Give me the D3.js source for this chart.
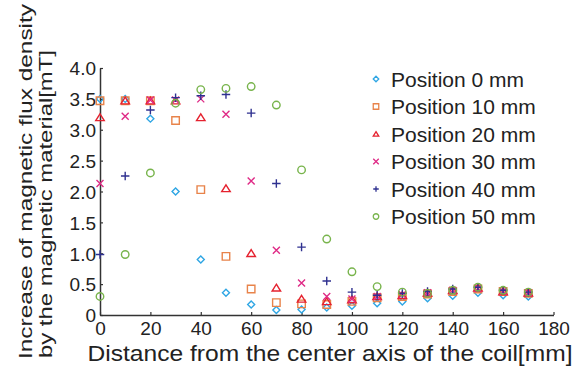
<!DOCTYPE html>
<html>
<head>
<meta charset="utf-8">
<script src="https://cdn.jsdelivr.net/npm/d3@7"></script>
<style>
  body { margin: 0; background: #fff; }
  svg text { font-family: "Liberation Sans", Arial, Helvetica, sans-serif; fill: #222; }
</style>
</head>
<body>
<div id="chart"></div>
<script>
// distance from the coil axis [mm]
const distances = [0, 10, 20, 30, 40, 50, 60, 70, 80, 90, 100, 110, 120, 130, 140, 150, 160, 170];

// increase of flux density [mT] per sensor position
const pos0  = [3.50, 3.50, 3.18, 2.00, 0.90, 0.36, 0.17, 0.08, 0.09, 0.12, 0.15, 0.19, 0.22, 0.27, 0.31, 0.36, 0.32, 0.30];
const pos10 = [3.47, 3.47, 3.47, 3.15, 2.03, 0.95, 0.42, 0.20, 0.18, 0.17, 0.22, 0.28, 0.30, 0.34, 0.38, 0.42, 0.38, 0.35];
const pos20 = [3.20, 3.47, 3.47, 3.47, 3.20, 2.05, 1.00, 0.44, 0.26, 0.22, 0.25, 0.30, 0.32, 0.36, 0.40, 0.44, 0.38, 0.36];
const pos30 = [2.13, 3.22, 3.48, 3.48, 3.50, 3.25, 2.17, 1.05, 0.52, 0.30, 0.26, 0.30, 0.33, 0.36, 0.40, 0.43, 0.38, 0.36];
const pos40 = [0.98, 2.25, 3.32, 3.52, 3.55, 3.57, 3.27, 2.13, 1.10, 0.55, 0.37, 0.32, 0.35, 0.38, 0.42, 0.45, 0.40, 0.37];
const pos50 = [0.30, 0.98, 2.30, 3.43, 3.65, 3.67, 3.70, 3.40, 2.35, 1.23, 0.70, 0.46, 0.37, 0.35, 0.40, 0.45, 0.40, 0.37];

const seriesNames = ['Position 0 mm', 'Position 10 mm', 'Position 20 mm', 'Position 30 mm', 'Position 40 mm', 'Position 50 mm'];
const xTicks = [0, 20, 40, 60, 80, 100, 120, 140, 160, 180];
const yTicks = [0, 0.5, 1.0, 1.5, 2.0, 2.5, 3.0, 3.5, 4.0];

const allSeries = [pos0, pos10, pos20, pos30, pos40, pos50];
const colors = ['#2fa6e4', '#e8834a', '#e5222f', '#df2a86', '#2f3190', '#78b44c'];
const shapes = ['diamond', 'square', 'triangle', 'cross', 'plus', 'circle'];

const W = 582, H = 367;
const svg = d3.select('#chart').append('svg').attr('width', W).attr('height', H);

const x = d3.scaleLinear().domain([0, 180]).range([100, 553.5]);
const y = d3.scaleLinear().domain([0, 4]).range([315, 68]);

// marker path, centred at 0,0
function markerPath(shape, s) {
  const h = s / 2;
  switch (shape) {
    case 'diamond': return `M0,${-h}L${h},0L0,${h}L${-h},0Z`;
    case 'square': return `M${-h},${-h}H${h}V${h}H${-h}Z`;
    case 'triangle': return `M0,${-h * 0.85}L${h},${h * 0.75}L${-h},${h * 0.75}Z`;
    case 'cross': return `M${-h},${-h}L${h},${h}M${h},${-h}L${-h},${h}`;
    case 'plus': return `M${-h},0H${h}M0,${-h}V${h}`;
    case 'circle': return `M${h},0A${h},${h} 0 1,1 ${-h},0A${h},${h} 0 1,1 ${h},0Z`;
  }
}
const markerSize = [7, 7.5, 8.5, 7, 8.5, 7.5];

// axes
const xAxis = svg.append('g')
  .attr('transform', `translate(0,${y(0)})`)
  .call(d3.axisBottom(x).tickValues(xTicks).tickSizeInner(-3).tickSizeOuter(0).tickPadding(6));
const yAxis = svg.append('g')
  .attr('transform', `translate(${x(0)},0)`)
  .call(d3.axisLeft(y).tickValues(yTicks).tickSizeInner(-3).tickSizeOuter(0).tickPadding(4)
    .tickFormat(d => d === 0 ? '0' : d.toFixed(1)));

[xAxis, yAxis].forEach(a => {
  a.select('.domain').attr('stroke', '#333').attr('stroke-width', 1.5);
  a.selectAll('.tick line').attr('stroke', '#333').attr('stroke-width', 1.2);
  a.selectAll('.tick text').attr('font-size', 19).attr('fill', '#222');
});
yAxis.selectAll('.tick text').attr('dy', '0.36em');
xAxis.selectAll('.tick text').attr('dy', '0.72em');

// markers
allSeries.forEach((vals, i) => {
  svg.append('g')
    .selectAll('path')
    .data(vals)
    .enter()
    .append('path')
    .attr('transform', (d, j) => `translate(${x(distances[j])},${y(d)})`)
    .attr('d', markerPath(shapes[i], markerSize[i]))
    .attr('fill', 'none')
    .attr('stroke', colors[i])
    .attr('stroke-width', 1.4);
});

// legend
const legend = svg.append('g');
seriesNames.forEach((name, i) => {
  const ly = 79 + i * 27.5;
  legend.append('path')
    .attr('transform', `translate(376,${ly})`)
    .attr('d', markerPath(shapes[i], 5.5))
    .attr('fill', 'none')
    .attr('stroke', colors[i])
    .attr('stroke-width', 1.3);
  legend.append('text')
    .attr('x', 391)
    .attr('y', ly)
    .attr('dy', '0.36em')
    .attr('font-size', 21)
    .text(name);
});

// axis titles
svg.append('text')
  .attr('x', 330)
  .attr('y', 361)
  .attr('text-anchor', 'middle')
  .attr('font-size', 22)
  .attr('textLength', 485)
  .attr('lengthAdjust', 'spacingAndGlyphs')
  .text('Distance from the center axis of the coil[mm]');

svg.append('text')
  .attr('transform', 'translate(32,359) rotate(-90)')
  .attr('font-size', 19)
  .attr('textLength', 355)
  .attr('lengthAdjust', 'spacingAndGlyphs')
  .text('Increase of magnetic flux density');
svg.append('text')
  .attr('transform', 'translate(52,358) rotate(-90)')
  .attr('font-size', 19)
  .attr('textLength', 308)
  .attr('lengthAdjust', 'spacingAndGlyphs')
  .text('by the magnetic material[mT]');
</script>
</body>
</html>
